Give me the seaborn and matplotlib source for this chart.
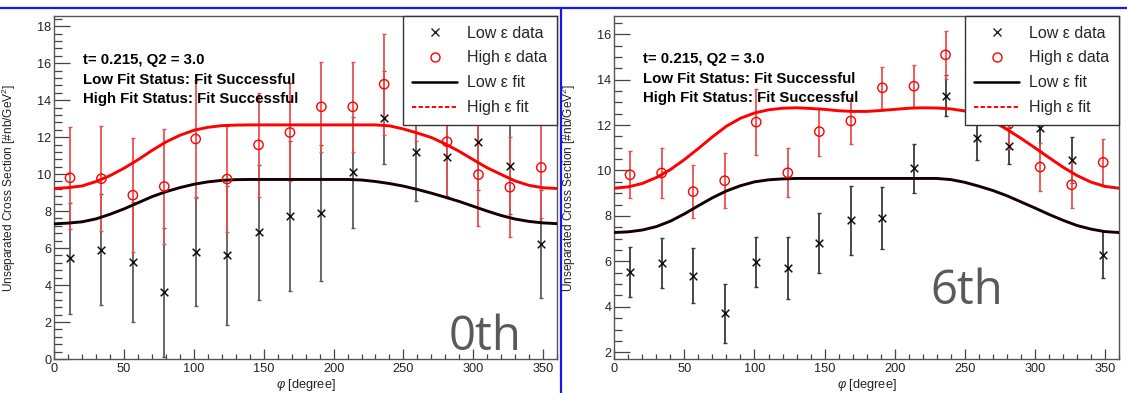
import numpy as np
import pandas as pd
import matplotlib
matplotlib.use("Agg")
import matplotlib.pyplot as plt
import seaborn as sns
from matplotlib.lines import Line2D
from matplotlib.ticker import MultipleLocator

# ---------------- data ----------------
phi_bins = [11.25, 33.75, 56.25, 78.75, 101.25, 123.75, 146.25, 168.75,
            191.25, 213.75, 236.25, 258.75, 281.25, 303.75, 326.25, 348.75]

# 0th iteration (left)
low_0th = [5.45, 5.9, 5.25, 3.6, 5.8, 5.6, 6.85, 7.75, 7.9, 10.1, 13.05, 11.17, 10.9, 11.75, 10.42, 6.22]
low_0th_err = [3.0, 3.0, 3.25, 3.5, 2.95, 3.75, 3.65, 4.05, 3.7, 3.0, 2.5, 2.6, 2.2, 2.6, 2.6, 2.9]
high_0th = [9.8, 9.75, 8.86, 9.33, 11.9, 9.73, 11.58, 12.25, 13.64, 13.64, 14.86, 14.4, 11.75, 9.97, 9.29, 10.36]
high_0th_err = [2.75, 2.85, 3.07, 3.12, 3.2, 2.85, 2.8, 2.65, 2.43, 2.43, 2.74, 2.6, 2.95, 2.78, 2.69, 2.72]

# 6th iteration (right)
low_6th = [5.54, 5.95, 5.37, 3.71, 5.98, 5.72, 6.81, 7.8, 7.9, 10.1, 13.3, 11.45, 11.1, 11.88, 10.47, 6.3]
low_6th_err = [1.1, 1.1, 1.2, 1.3, 1.1, 1.37, 1.33, 1.5, 1.36, 1.07, 0.9, 0.98, 0.8, 1.0, 1.0, 1.04]
high_6th = [9.81, 9.89, 9.07, 9.55, 12.13, 9.9, 11.71, 12.18, 13.64, 13.71, 15.09, 13.5, 12.03, 10.15, 9.37, 10.36]
high_6th_err = [1.03, 1.09, 1.18, 1.21, 1.46, 1.08, 1.05, 1.0, 0.92, 0.92, 1.05, 1.0, 1.1, 1.07, 1.0, 1.04]

# fit curves every 10 degrees
phi_fit = [0, 10, 20, 30, 40, 50, 60, 70, 80, 90, 100, 110, 120, 130, 140, 150, 160, 170, 180,
           190, 200, 210, 220, 230, 240, 250, 260, 270, 280, 290, 300, 310, 320, 330, 340, 350, 360]
low_fit_0th = [7.31, 7.35, 7.42, 7.58, 7.83, 8.12, 8.45, 8.78, 9.05, 9.27, 9.45, 9.58, 9.66, 9.70,
               9.71, 9.71, 9.71, 9.71, 9.71, 9.71, 9.71, 9.71, 9.68, 9.60, 9.49, 9.35, 9.17, 8.97,
               8.75, 8.52, 8.26, 8.00, 7.76, 7.57, 7.44, 7.36, 7.32]
high_fit_0th = [9.22, 9.27, 9.36, 9.60, 9.92, 10.32, 10.78, 11.28, 11.74, 12.10, 12.37, 12.53, 12.62,
                12.65, 12.66, 12.66, 12.66, 12.66, 12.66, 12.66, 12.66, 12.66, 12.66, 12.66, 12.61,
                12.44, 12.22, 11.98, 11.63, 11.23, 10.78, 10.34, 9.98, 9.63, 9.39, 9.26, 9.22]
low_fit_6th = [7.27, 7.30, 7.38, 7.53, 7.77, 8.09, 8.45, 8.80, 9.10, 9.33, 9.50, 9.59, 9.63, 9.65,
               9.65, 9.65, 9.65, 9.65, 9.65, 9.65, 9.65, 9.65, 9.65, 9.65, 9.60, 9.48, 9.31, 9.12,
               8.89, 8.62, 8.35, 8.07, 7.81, 7.58, 7.42, 7.31, 7.27]
high_fit_6th = [9.22, 9.28, 9.43, 9.69, 10.04, 10.48, 10.97, 11.48, 11.95, 12.30, 12.53, 12.67, 12.74,
                12.76, 12.73, 12.69, 12.63, 12.60, 12.60, 12.64, 12.69, 12.74, 12.76, 12.75, 12.71,
                12.62, 12.45, 12.17, 11.81, 11.42, 11.00, 10.57, 10.15, 9.78, 9.49, 9.30, 9.22]

info_lines = ["t= 0.215, Q2 = 3.0", "Low Fit Status: Fit Successful", "High Fit Status: Fit Successful"]
legend_labels = ["Low \u03b5 data", "High \u03b5 data", "Low \u03b5 fit", "High \u03b5 fit"]
panel_tags = ["0th", "6th"]
ylabel = "Unseparated Cross Section [#nb/GeV$^2$]"
xlabel = r"$\varphi$ [degree]"

# ---------------- style ----------------
sns.set_theme(style="white")
plt.rcParams["font.family"] = ["Liberation Sans", "DejaVu Sans"]
plt.rcParams["mathtext.fontset"] = "custom"
plt.rcParams["mathtext.rm"] = "Liberation Sans"
plt.rcParams["mathtext.it"] = "Liberation Sans:italic"

W, H = 1127, 393
fig = plt.figure(figsize=(W / 100, H / 100), dpi=100)
fig.patch.set_facecolor("white")

def fx(px):
    return px / W

def fy(py):
    return 1 - py / H

axL = fig.add_axes([fx(54.3), fy(359), fx(557 - 54.3), (359 - 16) / H])
axR = fig.add_axes([fx(614.3), fy(359.3), fx(1119 - 614.3), (359.3 - 16) / H])

RED = "#ff0000"
RED_BAR = "#e85050"

panels = [
    (axL, low_0th, low_0th_err, high_0th, high_0th_err, low_fit_0th, high_fit_0th,
     (0, 18.55), np.arange(0, 19, 2), 0.4, "#5c5c5c", (0.857, 0.064), 0.057, [0.872, 0.813, 0.758]),
    (axR, low_6th, low_6th_err, high_6th, high_6th_err, low_fit_6th, high_fit_6th,
     (1.69, 16.8), np.arange(2, 17, 2), 0.5, "#3a3a3a", (0.699, 0.197), 0.0575, [0.876, 0.817, 0.760]),
]

for i, (ax, lo, loe, hi, hie, lof, hif, ylim, yt, ymin, lowbar, tagpos, tx, tys) in enumerate(panels):
    ax.set_facecolor("white")
    # error bars
    ax.errorbar(phi_bins, lo, yerr=loe, fmt="none", ecolor=lowbar, elinewidth=1.3,
                capsize=1.6, capthick=1.0, zorder=2)
    ax.errorbar(phi_bins, hi, yerr=hie, fmt="none", ecolor=RED_BAR, elinewidth=1.3,
                capsize=1.6, capthick=1.0, zorder=2.5)
    # fits
    sns.lineplot(x=phi_fit, y=lof, ax=ax, color="#150000", linewidth=2.1, zorder=4)
    sns.lineplot(x=phi_fit, y=hif, ax=ax, color=RED, linewidth=2.1, zorder=4)
    # markers
    sns.scatterplot(x=phi_bins, y=lo, ax=ax, marker="x", s=30, color="#111111",
                    linewidth=1.1, zorder=5)
    sns.scatterplot(x=phi_bins, y=hi, ax=ax, marker="o", s=45, facecolor="none",
                    edgecolor=RED, linewidth=1.0, zorder=5)

    ax.set_xlim(0, 360)
    ax.set_ylim(*ylim)
    ax.set_yticks(yt)
    ax.yaxis.set_minor_locator(MultipleLocator(ymin))
    ax.xaxis.set_major_locator(MultipleLocator(50))
    ax.xaxis.set_minor_locator(MultipleLocator(10))
    ax.tick_params(axis="y", which="major", direction="in", length=11.2, width=0.9,
                   color="#444444", labelsize=9.2, pad=2, labelcolor="#222222")
    ax.tick_params(axis="y", which="minor", direction="in", length=6.1, width=0.9,
                   color="#444444")
    ax.tick_params(axis="x", which="major", direction="in", length=7.2, width=0.9,
                   color="#444444", labelsize=9.2, pad=3, labelcolor="#222222")
    ax.tick_params(axis="x", which="minor", direction="in", length=3.8, width=0.9,
                   color="#444444")
    ax.tick_params(left=True, bottom=True, top=False, right=False, which="both")
    for sp in ax.spines.values():
        sp.set_color("#555555")
        sp.set_linewidth(1.0)

    ax.set_xlabel(xlabel, fontsize=9.2, color="#222222", labelpad=1)
    ax.set_ylabel(ylabel, fontsize=8.6, color="#222222")
    ax.yaxis.set_label_coords(-0.072, 0.5)

    for t, ty in zip(info_lines, tys):
        ax.text(tx, ty, t, transform=ax.transAxes, fontsize=10.8, fontweight="bold",
                va="center", ha="left", color="black", zorder=6)

    ax.text(tagpos[0], tagpos[1], panel_tags[i], transform=ax.transAxes, fontsize=34,
            color="#5a5a5a", ha="center", va="center", family="Open Sans", zorder=6)

    handles = [
        Line2D([], [], linestyle="none", marker="x", markersize=6, color="#222222", markeredgewidth=1.0),
        Line2D([], [], linestyle="none", marker="o", markersize=6.5, markerfacecolor="none",
               markeredgecolor=RED, markeredgewidth=1.0),
        Line2D([], [], color="black", linewidth=1.8),
        Line2D([], [], color=RED, linewidth=1.4, linestyle=(0, (2.2, 1.2))),
    ]
    leg = ax.legend(handles, legend_labels, loc="upper right", bbox_to_anchor=(1, 1),
                    borderaxespad=0, fontsize=11.5, frameon=True, fancybox=False,
                    handlelength=2.8, handletextpad=0.65, labelspacing=0.62,
                    borderpad=0.6)
    leg.get_frame().set_edgecolor("#333333")
    leg.get_frame().set_linewidth(1.0)
    leg.get_frame().set_alpha(1.0)
    leg.set_zorder(10)

# blue slide frame lines
fig.add_artist(Line2D([0, 1], [fy(8.3), fy(8.3)], transform=fig.transFigure,
                      color="#1515f5", linewidth=1.6))
fig.add_artist(Line2D([fx(561.3), fx(561.3)], [fy(8.3), 0], transform=fig.transFigure,
                      color="#1515f5", linewidth=1.6))

fig.savefig("out.png", dpi=100, facecolor="white")
